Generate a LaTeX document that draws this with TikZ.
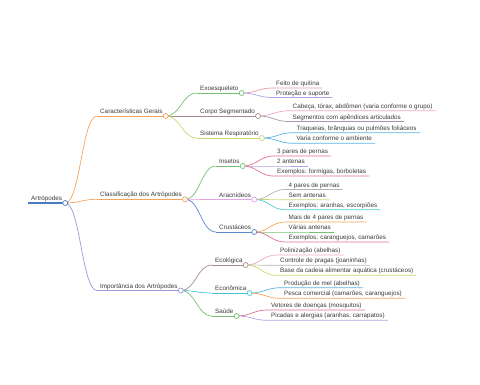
\documentclass[tikz,border=0pt]{standalone}
\usepackage{fontspec}
\setmainfont{Liberation Sans}
\usetikzlibrary{positioning,calc}

\definecolor{txtgray}{HTML}{3A3A3A}
\definecolor{mblue}{HTML}{4A7CC4}
\definecolor{morange}{HTML}{F4A35C}
\definecolor{mpurple}{HTML}{A495DC}
\definecolor{mgreen}{HTML}{72C172}
\definecolor{mbrown}{HTML}{A98B8B}
\definecolor{mlime}{HTML}{C9D86E}
\definecolor{mpink}{HTML}{EE95A8}
\definecolor{mlilac}{HTML}{B3A2E6}
\definecolor{mrose}{HTML}{F2A6C6}
\definecolor{mgreyv}{HTML}{A696AE}
\definecolor{msky}{HTML}{5AB4E2}
\definecolor{mred}{HTML}{E3728A}
\definecolor{mmauve}{HTML}{E2A6E4}
\definecolor{mgrey}{HTML}{B4B4B4}
\definecolor{mcyan}{HTML}{4FCFD6}
\definecolor{mcblue}{HTML}{5A86CF}
\definecolor{mteal}{HTML}{44C6D8}

\begin{document}
\begin{tikzpicture}[
    x=1pt, y=-1pt,
    topic/.style={anchor=south west, inner xsep=3pt, inner ysep=0.6pt,
        text height=4.8pt, text depth=1.6pt, font=\fontsize{6.3}{7}\selectfont,
        text=txtgray},
    uline/.style={line width=0.7pt},
    link/.style={line width=0.7pt},
    dot/.style={circle, draw=#1, fill=white, line width=0.7pt,
        inner sep=0pt, minimum size=5pt}
]
\useasboundingbox (0,0) rectangle (480,384);

% root
\node[topic] (arthro) at (28,203) {Artrópodes};
\draw[mblue, line width=1.4pt] (arthro.south west) -- (arthro.south east);

% level 1
\node[topic] (caract) at (97,116) {Características Gerais};
\node[topic] (classif) at (97,199.3) {Classificação dos Artrópodes};
\node[topic] (import) at (97,290.5) {Importância dos Artrópodes};
\draw[uline, morange] (caract.south west) -- (caract.south east);
\draw[uline, morange] (classif.south west) -- (classif.south east);
\draw[uline, mpurple] (import.south west) -- (import.south east);
\draw[link, morange] (arthro.south east) .. controls +(15,0) and +(-15,0) .. (caract.south west);
\draw[link, morange] (arthro.south east) .. controls +(15,0) and +(-15,0) .. (classif.south west);
\draw[link, mpurple] (arthro.south east) .. controls +(15,0) and +(-15,0) .. (import.south west);

% level 2
\node[topic] (exo) at (197,93) {Exoesqueleto};
\node[topic] (corpo) at (197,116) {Corpo Segmentado};
\node[topic] (resp) at (197,138) {Sistema Respiratório};
\node[topic] (inset) at (216,166) {Insetos};
\node[topic] (aracn) at (216,199.5) {Aracnídeos};
\node[topic] (crust) at (216,232) {Crustáceos};
\node[topic] (ecol) at (212,265) {Ecológica};
\node[topic] (econ) at (212,293) {Econômica};
\node[topic] (saude) at (212,316) {Saúde};
\draw[uline, mgreen] (exo.south west) -- (exo.south east);
\draw[uline, mbrown] (corpo.south west) -- (corpo.south east);
\draw[uline, mlime] (resp.south west) -- (resp.south east);
\draw[uline, mgreen] (inset.south west) -- (inset.south east);
\draw[uline, mmauve] (aracn.south west) -- (aracn.south east);
\draw[uline, mcblue] (crust.south west) -- (crust.south east);
\draw[uline, mbrown] (ecol.south west) -- (ecol.south east);
\draw[uline, mteal] (econ.south west) -- (econ.south east);
\draw[uline, mgreen] (saude.south west) -- (saude.south east);
\draw[link, mgreen] (caract.south east) .. controls +(15,0) and +(-15,0) .. (exo.south west);
\draw[link, mbrown] (caract.south east) .. controls +(15,0) and +(-15,0) .. (corpo.south west);
\draw[link, mlime] (caract.south east) .. controls +(15,0) and +(-15,0) .. (resp.south west);
\draw[link, mgreen] (classif.south east) .. controls +(15,0) and +(-15,0) .. (inset.south west);
\draw[link, mmauve] (classif.south east) .. controls +(15,0) and +(-15,0) .. (aracn.south west);
\draw[link, mcblue] (classif.south east) .. controls +(15,0) and +(-15,0) .. (crust.south west);
\draw[link, mbrown] (import.south east) .. controls +(15,0) and +(-15,0) .. (ecol.south west);
\draw[link, mteal] (import.south east) .. controls +(15,0) and +(-15,0) .. (econ.south west);
\draw[link, mgreen] (import.south east) .. controls +(15,0) and +(-15,0) .. (saude.south west);

% leaves
\node[topic] (exo1) at (273,88) {Feito de quitina};
\node[topic] (exo2) at (273,97.5) {Proteção e suporte};
\node[topic] (corpo1) at (289.5,110.7) {Cabeça, tórax, abdômen (varia conforme o grupo)};
\node[topic] (corpo2) at (289.5,121.5) {Segmentos com apêndices articulados};
\node[topic] (resp1) at (293.5,132.7) {Traqueias, brânquias ou pulmões foliáceos};
\node[topic] (resp2) at (293.5,143.3) {Varia conforme o ambiente};
\node[topic] (inset1) at (274,156) {3 pares de pernas};
\node[topic] (inset2) at (274,166) {2 antenas};
\node[topic] (inset3) at (274,176) {Exemplos: formigas, borboletas};
\node[topic] (aracn1) at (285.5,189.5) {4 pares de pernas};
\node[topic] (aracn2) at (285.5,199.7) {Sem antenas};
\node[topic] (aracn3) at (285.5,209.7) {Exemplos: aranhas, escorpiões};
\node[topic] (crust1) at (285.5,222) {Mais de 4 pares de pernas};
\node[topic] (crust2) at (285.5,232) {Várias antenas};
\node[topic] (crust3) at (285.5,242) {Exemplos: caranguejos, camarões};
\node[topic] (ecol1) at (277,255) {Polinização (abelhas)};
\node[topic] (ecol2) at (277,265.3) {Controle de pragas (joaninhas)};
\node[topic] (ecol3) at (277,275.3) {Base da cadeia alimentar aquática (crustáceos)};
\node[topic] (econ1) at (281,287.7) {Produção de mel (abelhas)};
\node[topic] (econ2) at (281,298.3) {Pesca comercial (camarões, caranguejos)};
\node[topic] (saude1) at (268,310) {Vetores de doenças (mosquitos)};
\node[topic] (saude2) at (268,320.3) {Picadas e alergias (aranhas, carrapatos)};

\draw[uline, mpink] (exo.south east) .. controls +(15,0) and +(-15,0) .. (exo1.south west) -- (exo1.south east);
\draw[uline, mlilac] (exo.south east) .. controls +(15,0) and +(-15,0) .. (exo2.south west) -- (exo2.south east);
\draw[uline, mrose] (corpo.south east) .. controls +(15,0) and +(-15,0) .. (corpo1.south west) -- (corpo1.south east);
\draw[uline, mgreyv] (corpo.south east) .. controls +(15,0) and +(-15,0) .. (corpo2.south west) -- (corpo2.south east);
\draw[uline, msky] (resp.south east) .. controls +(15,0) and +(-15,0) .. (resp1.south west) -- (resp1.south east);
\draw[uline, msky] (resp.south east) .. controls +(15,0) and +(-15,0) .. (resp2.south west) -- (resp2.south east);
\draw[uline, mred] (inset.south east) .. controls +(15,0) and +(-15,0) .. (inset1.south west) -- (inset1.south east);
\draw[uline, mlilac] (inset.south east) .. controls +(15,0) and +(-15,0) .. (inset2.south west) -- (inset2.south east);
\draw[uline, mred] (inset.south east) .. controls +(15,0) and +(-15,0) .. (inset3.south west) -- (inset3.south east);
\draw[uline, mgrey] (aracn.south east) .. controls +(15,0) and +(-15,0) .. (aracn1.south west) -- (aracn1.south east);
\draw[uline, mlime] (aracn.south east) .. controls +(15,0) and +(-15,0) .. (aracn2.south west) -- (aracn2.south east);
\draw[uline, mcyan] (aracn.south east) .. controls +(15,0) and +(-15,0) .. (aracn3.south west) -- (aracn3.south east);
\draw[uline, morange] (crust.south east) .. controls +(15,0) and +(-15,0) .. (crust1.south west) -- (crust1.south east);
\draw[uline, mgreen] (crust.south east) .. controls +(15,0) and +(-15,0) .. (crust2.south west) -- (crust2.south east);
\draw[uline, mred] (crust.south east) .. controls +(15,0) and +(-15,0) .. (crust3.south west) -- (crust3.south east);
\draw[uline, mrose] (ecol.south east) .. controls +(15,0) and +(-15,0) .. (ecol1.south west) -- (ecol1.south east);
\draw[uline, mgrey] (ecol.south east) .. controls +(15,0) and +(-15,0) .. (ecol2.south west) -- (ecol2.south east);
\draw[uline, mlime] (ecol.south east) .. controls +(15,0) and +(-15,0) .. (ecol3.south west) -- (ecol3.south east);
\draw[uline, msky] (econ.south east) .. controls +(15,0) and +(-15,0) .. (econ1.south west) -- (econ1.south east);
\draw[uline, morange] (econ.south east) .. controls +(15,0) and +(-15,0) .. (econ2.south west) -- (econ2.south east);
\draw[uline, mred] (saude.south east) .. controls +(15,0) and +(-15,0) .. (saude1.south west) -- (saude1.south east);
\draw[uline, mlilac] (saude.south east) .. controls +(15,0) and +(-15,0) .. (saude2.south west) -- (saude2.south east);

% end dots
\node[dot=mblue] (arthro-d) at (arthro.south east) {};
\node[dot=morange] (caract-d) at (caract.south east) {};
\node[dot=morange] (classif-d) at (classif.south east) {};
\node[dot=mpurple] (import-d) at (import.south east) {};
\node[dot=mgreen] (exo-d) at (exo.south east) {};
\node[dot=mbrown] (corpo-d) at (corpo.south east) {};
\node[dot=mlime] (resp-d) at (resp.south east) {};
\node[dot=mgreen] (inset-d) at (inset.south east) {};
\node[dot=mmauve] (aracn-d) at (aracn.south east) {};
\node[dot=mcblue] (crust-d) at (crust.south east) {};
\node[dot=mbrown] (ecol-d) at (ecol.south east) {};
\node[dot=mteal] (econ-d) at (econ.south east) {};
\node[dot=mgreen] (saude-d) at (saude.south east) {};
\end{tikzpicture}
\end{document}
